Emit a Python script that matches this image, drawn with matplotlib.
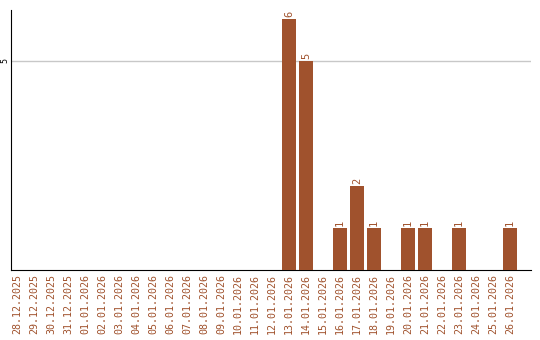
import matplotlib
matplotlib.use('Agg')
import matplotlib.pyplot as plt

dates = ['28.12.2025', '29.12.2025', '30.12.2025', '31.12.2025',
         '01.01.2026', '02.01.2026', '03.01.2026', '04.01.2026',
         '05.01.2026', '06.01.2026', '07.01.2026', '08.01.2026',
         '09.01.2026', '10.01.2026', '11.01.2026', '12.01.2026',
         '13.01.2026', '14.01.2026', '15.01.2026', '16.01.2026',
         '17.01.2026', '18.01.2026', '19.01.2026', '20.01.2026',
         '21.01.2026', '22.01.2026', '23.01.2026', '24.01.2026',
         '25.01.2026', '26.01.2026']
counts = [0, 0, 0, 0, 0, 0, 0, 0, 0, 0, 0, 0, 0, 0, 0, 0,
          6, 5, 0, 1, 2, 1, 0, 1, 1, 0, 1, 0, 0, 1]

brown = '#a0522d'
plt.rcParams['font.family'] = ['DejaVu Sans Mono']

fig = plt.figure(figsize=(5.4, 3.4), dpi=100)
ax = fig.add_axes([11/540, 1 - 270/340, 520/540, 260/340])

x = list(range(len(dates)))
ax.bar(x, counts, width=0.82, color=brown, zorder=3)

for i, v in zip(x, counts):
    if v > 0:
        ax.text(i, v + 0.05, str(v), rotation=90, ha='center', va='bottom',
                fontsize=7.5, color=brown)

ax.set_xlim(-0.35, 30.24)
ax.set_ylim(0, 6.22)
ax.set_yticks([5])
ax.set_yticklabels(['5'], rotation=90, va='center', fontsize=6)
ax.yaxis.grid(True, color='#c8c8c8', linewidth=1, zorder=0)
ax.set_xticks(x)
ax.set_xticklabels(dates, rotation=90, fontsize=7.2, color=brown)
ax.tick_params(axis='x', length=0, pad=3)
ax.tick_params(axis='y', length=0, pad=1)
ax.spines['top'].set_visible(False)
ax.spines['right'].set_visible(False)

fig.savefig('out.png', dpi=100)
